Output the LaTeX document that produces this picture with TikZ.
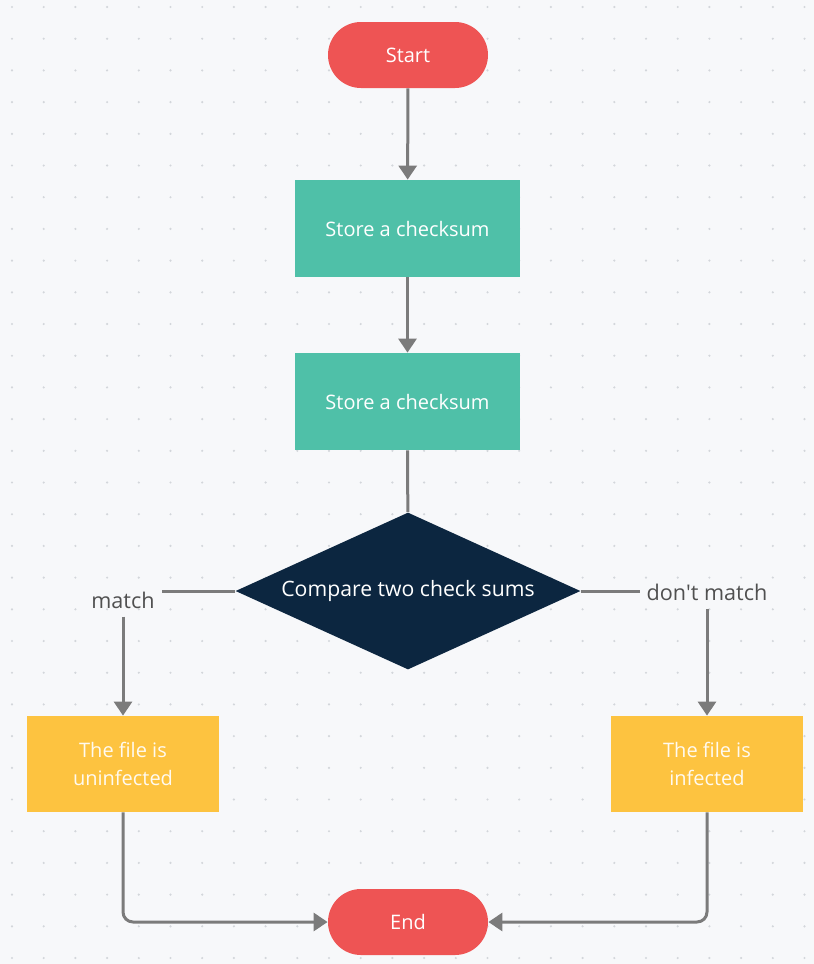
\documentclass[tikz,border=0pt]{standalone}
\usepackage{fontspec}
\setmainfont{Open Sans}
\usetikzlibrary{arrows.meta,shapes.geometric,shapes.misc}

\definecolor{bgcol}{HTML}{F7F8FA}
\definecolor{dotcol}{HTML}{D3D6DB}
\definecolor{termred}{HTML}{EE5454}
\definecolor{procteal}{HTML}{4FC0A8}
\definecolor{decnavy}{HTML}{0C2640}
\definecolor{resyellow}{HTML}{FDC340}
\definecolor{linegrey}{HTML}{7B7B7B}
\definecolor{labelgrey}{HTML}{505050}

\begin{document}
\begin{tikzpicture}[x=0.5pt,y=-0.5pt]
\tikzstyle{every node}+=[inner sep=0pt, text=white, font=\fontsize{10}{14}\selectfont]
\tikzstyle{terminal}=[rounded rectangle, fill=termred, minimum width=80pt, minimum height=33pt]
\tikzstyle{process}=[rectangle, fill=procteal, minimum width=112.5pt, minimum height=48.5pt]
\tikzstyle{decision}=[diamond, fill=decnavy, aspect=2.2, minimum width=172.5pt, minimum height=78.5pt, font=\fontsize{10.6}{12}\selectfont]
\tikzstyle{result}=[rectangle, fill=resyellow, minimum width=96pt, minimum height=48pt, align=center, text=white!92!resyellow]
\tikzstyle{branch}=[text=labelgrey, font=\fontsize{10.8}{12}\selectfont]
\tikzstyle{flow}=[draw=linegrey, line width=1.5pt]
\tikzstyle{flowarrow}=[flow, -{Triangle[length=7pt,width=9pt]}]

% background and dot grid
\fill[bgcol] (0,0) rectangle (814,964);
\useasboundingbox (0,0) rectangle (814,964);
\foreach \i in {0,...,25}
  \foreach \j in {0,...,30}
    \fill[dotcol] (12+31.7*\i,7+31.7*\j) circle (1.2);

% nodes
\node[terminal] (start) at (408,55) {Start};
\node[process] (store1) at (407.5,228.5) {Store a checksum};
\node[process] (store2) at (407.5,401.5) {Store a checksum};
\node[decision] (compare) at (408,591) {Compare two check sums};
\node[branch] (match) at (123,600) {match};
\node[branch] (nomatch) at (707,592) {don\textquotesingle t match};
\node[result] (clean) at (123,764) {The file is\\uninfected};
\node[result] (infected) at (707,764) {The file is\\infected};
\node[terminal] (end) at (408,922) {End};

% connectors
\draw[flowarrow] (start) -- (store1);
\draw[flowarrow] (store1) -- (store2);
\draw[flow] (store2) -- (compare);
\draw[flow] (compare.west) -- ([xshift=3.5pt]compare.west -| match.east);
\draw[flowarrow] ([yshift=-4pt]match.south) -- (clean);
\draw[flow] (compare.east) -- ([xshift=-3pt]compare.east -| nomatch.west);
\draw[flowarrow] ([yshift=-4pt]nomatch.south) -- (infected);
\draw[flowarrow, rounded corners=5pt] (clean.south) |- (end.west);
\draw[flowarrow, rounded corners=5pt] (infected.south) |- (end.east);
\end{tikzpicture}
\end{document}
